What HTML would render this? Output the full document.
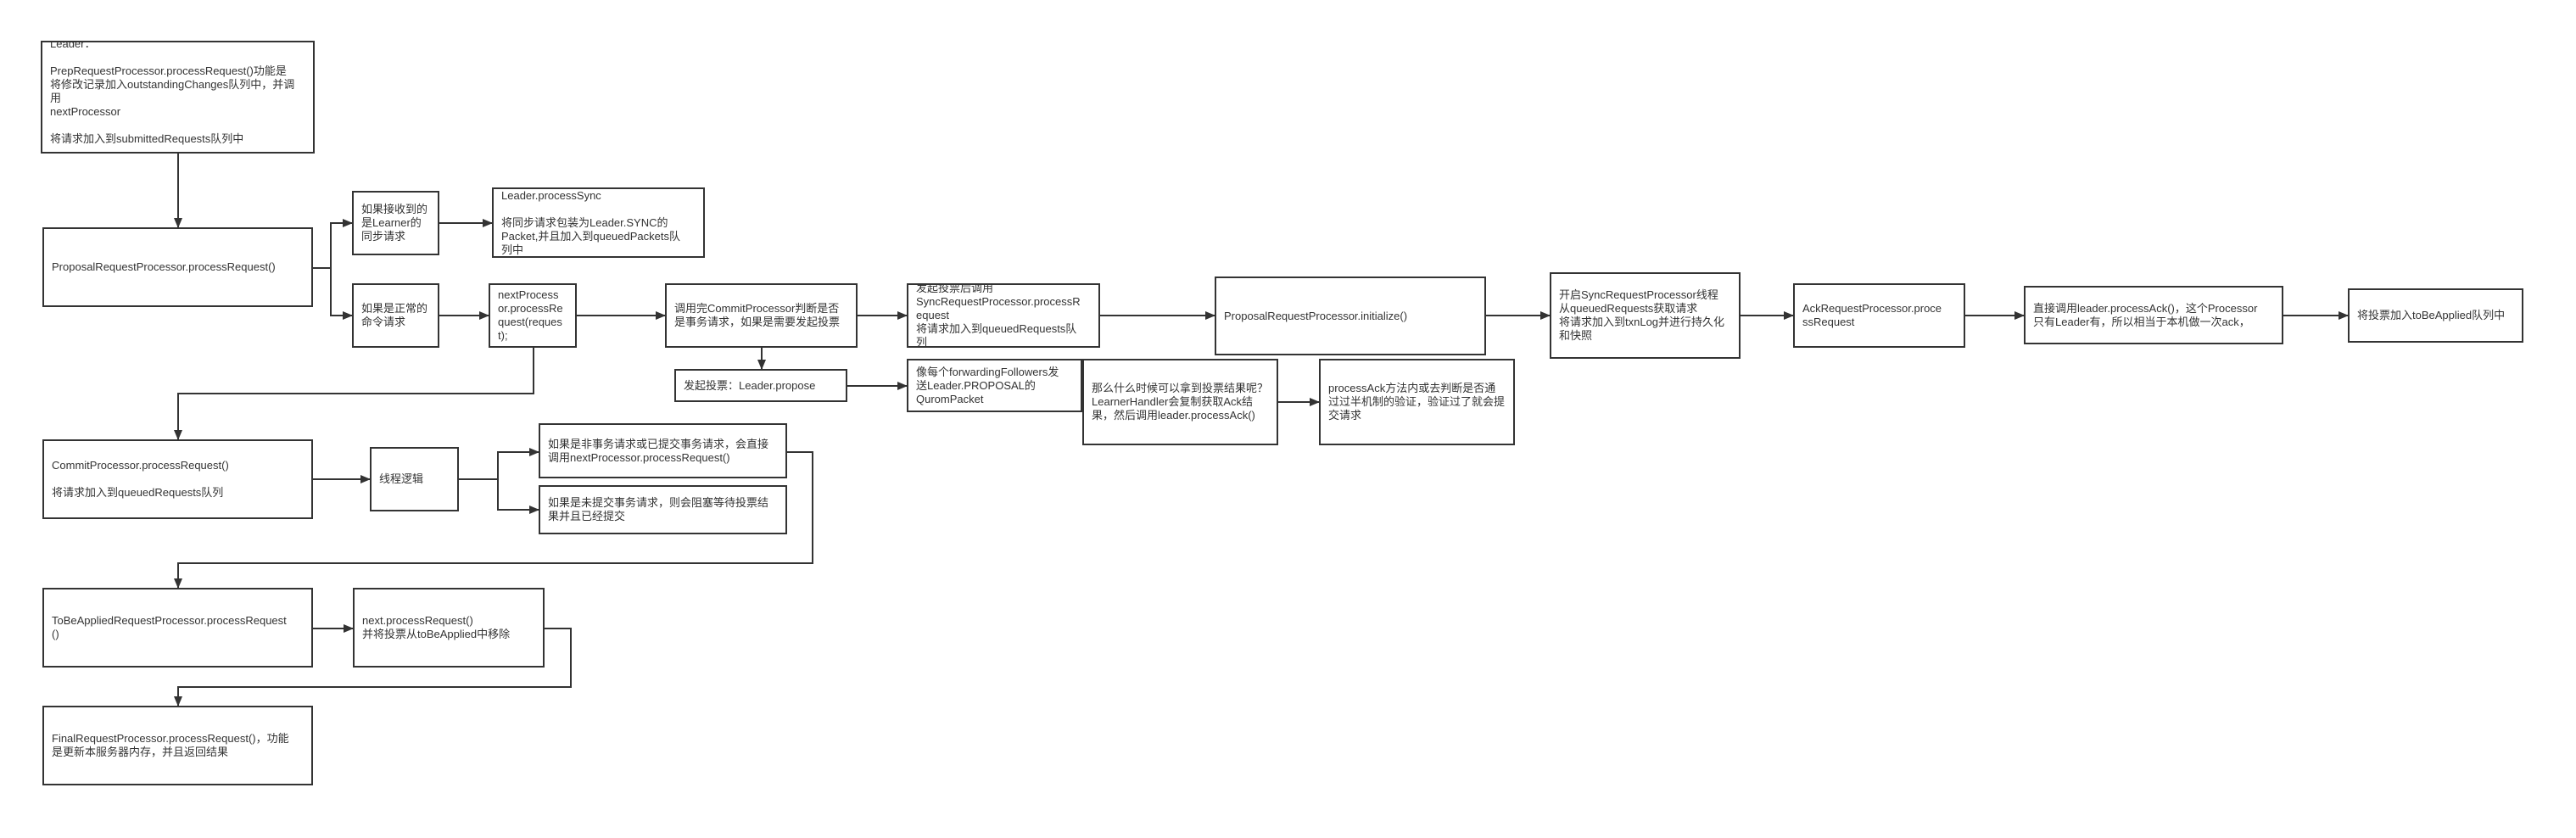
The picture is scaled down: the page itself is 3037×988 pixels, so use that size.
<!DOCTYPE html>
<html><head><meta charset="utf-8">
<style>
html,body{margin:0;padding:0;background:#fff;}
body{width:3037px;height:988px;position:relative;overflow:hidden;font-family:"Liberation Sans","Noto Sans CJK SC",sans-serif;font-size:13px;line-height:16px;color:#333;}
.b{position:absolute;border:2px solid #333;box-sizing:border-box;background:#fff;display:flex;align-items:center;padding-left:9px;white-space:nowrap;overflow:hidden;}
svg{position:absolute;left:0;top:0;}
</style></head><body>
<svg width="3037" height="988">
<defs><marker id="a" markerWidth="12" markerHeight="10" refX="11" refY="5" orient="auto" markerUnits="userSpaceOnUse"><path d="M0,0 L12,5 L0,10 z" fill="#333"/></marker></defs>
<g stroke="#333" stroke-width="2" fill="none" marker-end="url(#a)">
<path d="M210,181 V268"/>
<path d="M369,316 H390 V263 H415"/>
<path d="M390,316 V372 H415"/>
<path d="M518,263 H580"/>
<path d="M518,372 H576"/>
<path d="M680,372 H784"/>
<path d="M898,410 V435"/>
<path d="M629,410 V464 H210 V518"/>
<path d="M1011,372 H1069"/>
<path d="M999,455 H1069"/>
<path d="M1297,372 H1432"/>
<path d="M1752,372 H1827"/>
<path d="M1507,474 H1555"/>
<path d="M2052,372 H2114"/>
<path d="M2317,372 H2386"/>
<path d="M2692,372 H2768"/>
<path d="M369,565 H436"/>
<path d="M541,565 H587 V533 H635"/>
<path d="M587,565 V601 H635"/>
<path d="M928,533 H958 V664 H210 V693"/>
<path d="M369,741 H416"/>
<path d="M642,741 H673 V810 H210 V832"/>
</g>
</svg>

<div class="b" style="left:48px;top:48px;width:323px;height:133px;align-items:flex-start;"><div style="margin-top:-6px">Leader：<br><br>PrepRequestProcessor.processRequest()功能是<br>将修改记录加入outstandingChanges队列中，并调<br>用<br>nextProcessor<br><br>将请求加入到submittedRequests队列中</div></div>
<div class="b" style="left:50px;top:268px;width:319px;height:94px;">ProposalRequestProcessor.processRequest()</div>
<div class="b" style="left:415px;top:225px;width:103px;height:76px;"><div>如果接收到的<br>是Learner的<br>同步请求</div></div>
<div class="b" style="left:580px;top:221px;width:251px;height:83px;"><div>Leader.processSync<br><br>将同步请求包装为Leader.SYNC的<br>Packet,并且加入到queuedPackets队<br>列中</div></div>
<div class="b" style="left:415px;top:334px;width:103px;height:76px;"><div>如果是正常的<br>命令请求</div></div>
<div class="b" style="left:576px;top:334px;width:104px;height:76px;"><div>nextProcess<br>or.processRe<br>quest(reques<br>t);</div></div>
<div class="b" style="left:784px;top:334px;width:227px;height:76px;"><div>调用完CommitProcessor判断是否<br>是事务请求，如果是需要发起投票</div></div>
<div class="b" style="left:795px;top:435px;width:204px;height:39px;">发起投票：Leader.propose</div>
<div class="b" style="left:1069px;top:334px;width:228px;height:76px;"><div>发起投票后调用<br>SyncRequestProcessor.processR<br>equest<br>将请求加入到queuedRequests队<br>列</div></div>
<div class="b" style="left:1432px;top:326px;width:320px;height:93px;">ProposalRequestProcessor.initialize()</div>
<div class="b" style="left:1827px;top:321px;width:225px;height:102px;"><div>开启SyncRequestProcessor线程<br>从queuedRequests获取请求<br>将请求加入到txnLog并进行持久化<br>和快照</div></div>
<div class="b" style="left:2114px;top:334px;width:203px;height:76px;"><div>AckRequestProcessor.proce<br>ssRequest</div></div>
<div class="b" style="left:2386px;top:337px;width:306px;height:69px;"><div>直接调用leader.processAck()，这个Processor<br>只有Leader有，所以相当于本机做一次ack，</div></div>
<div class="b" style="left:2768px;top:340px;width:207px;height:64px;">将投票加入toBeApplied队列中</div>
<div class="b" style="left:1069px;top:423px;width:207px;height:63px;"><div>像每个forwardingFollowers发<br>送Leader.PROPOSAL的<br>QuromPacket</div></div>
<div class="b" style="left:1276px;top:423px;width:231px;height:102px;"><div>那么什么时候可以拿到投票结果呢？<br>LearnerHandler会复制获取Ack结<br>果，然后调用leader.processAck()</div></div>
<div class="b" style="left:1555px;top:423px;width:231px;height:102px;"><div>processAck方法内或去判断是否通<br>过过半机制的验证，验证过了就会提<br>交请求</div></div>
<div class="b" style="left:50px;top:518px;width:319px;height:94px;"><div>CommitProcessor.processRequest()<br><br>将请求加入到queuedRequests队列</div></div>
<div class="b" style="left:436px;top:527px;width:105px;height:76px;">线程逻辑</div>
<div class="b" style="left:635px;top:499px;width:293px;height:65px;"><div>如果是非事务请求或已提交事务请求，会直接<br>调用nextProcessor.processRequest()</div></div>
<div class="b" style="left:635px;top:572px;width:293px;height:58px;"><div>如果是未提交事务请求，则会阻塞等待投票结<br>果并且已经提交</div></div>
<div class="b" style="left:50px;top:693px;width:319px;height:94px;"><div>ToBeAppliedRequestProcessor.processRequest<br>()</div></div>
<div class="b" style="left:416px;top:693px;width:226px;height:94px;"><div>next.processRequest()<br>并将投票从toBeApplied中移除</div></div>
<div class="b" style="left:50px;top:832px;width:319px;height:94px;"><div>FinalRequestProcessor.processRequest()，功能<br>是更新本服务器内存，并且返回结果</div></div>
</body></html>
